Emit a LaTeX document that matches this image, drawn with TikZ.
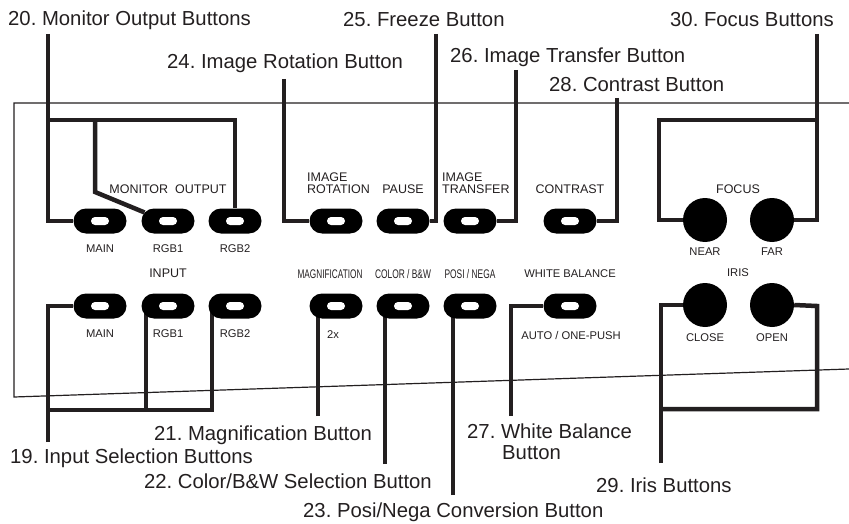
\documentclass[tikz,border=0pt]{standalone}
\usepackage{fontspec}
\setmainfont{Liberation Sans}
\usepackage{graphicx}
\usepackage{tikz}
\usetikzlibrary{shapes.misc,backgrounds}
\usepackage{xcolor}
\definecolor{ink}{HTML}{231F20}
\frenchspacing

\tikzset{
  callout/.style={font=\fontsize{20.3}{24}\selectfont, text=ink, inner sep=0pt, anchor=west},
  panellabel/.style={font=\fontsize{12.5}{12}\selectfont, text=ink, inner sep=0pt},
  keylabel/.style={font=\fontsize{11.2}{12}\selectfont, text=ink, inner sep=0pt},
  lead/.style={draw=ink, line width=4.5pt, line join=miter},
  panel/.style={draw=ink, line width=1.2pt},
  pushbtn/.style={rounded rectangle, fill=black, minimum width=53pt, minimum height=25pt, inner sep=0pt,
    path picture={\node[rounded rectangle, fill=white, minimum width=18pt, minimum height=8pt, inner sep=0pt]
      at (path picture bounding box.center) {};}},
  dial/.style={circle, fill=black, minimum size=44pt, inner sep=0pt}
}

\begin{document}
\begin{tikzpicture}[x=1pt, y=-1pt]
    \useasboundingbox (0,0) rectangle (849,524);

    % Panel outline
    \draw[panel] (849,103) -- (14,103) -- (14,397) -- (849,369);

    % Callout labels
    \node[callout] (lbl20) at (8,20) {20. Monitor Output Buttons};
    \node[callout] (lbl25) at (343,20) {25. Freeze Button};
    \node[callout] (lbl30) at (670,20) {30. Focus Buttons};
    \node[callout] (lbl24) at (167,63) {24. Image Rotation Button};
    \node[callout] (lbl26) at (450,57) {26. Image Transfer Button};
    \node[callout] (lbl28) at (549,85) {28. Contrast Button};
    \node[callout] (lbl19) at (10,458) {19. Input Selection Buttons};
    \node[callout] (lbl21) at (154,435) {21. Magnification Button};
    \node[callout, anchor=east] (lbl22) at (432,481) {22. Color/B\&W Selection Button};
    \node[callout] (lbl23) at (303,512) {23. Posi/Nega Conversion Button};
    \node[callout, align=left, font=\fontsize{20.3}{21}\selectfont] (lbl27) at (467,442)
        {27. White Balance\\\hspace*{35pt}Button};
    \node[callout] (lbl29) at (596,485) {29. Iris Buttons};

    % Free ends of the leads
    \coordinate (end20) at (48,34);
    \coordinate (bus20) at (48,120);
    \coordinate (knee20) at (95,192);
    \coordinate (end19) at (48,442);
    \coordinate (bus19) at (48,410);
    \coordinate (tap19) at (146,410);
    \coordinate (end21) at (318,416);
    \coordinate (end22) at (385,464);
    \coordinate (end23) at (453,495);
    \coordinate (end27) at (511,416);
    \coordinate (end24) at (284,79);
    \coordinate (end25) at (436,34);
    \coordinate (end26) at (516,70);
    \coordinate (end28) at (617,98);
    \coordinate (end30) at (817,34);
    \coordinate (bus30) at (659,120);
    \coordinate (end29) at (661,463);
    \coordinate (bus29) at (661,409);
    \coordinate (corner29) at (817,306);

    % Buttons
    \foreach \name/\x/\y in {mainout/100/221, rgb1out/168/221, rgb2out/235/221,
        rotbtn/336/221, pausebtn/403/221, xferbtn/470/221, contrastbtn/570/221,
        mainin/100/306, rgb1in/168/306, rgb2in/235/306,
        magbtn/336/306, colorbtn/403/306, posibtn/470/306, wbbtn/570/306} {
        \node[pushbtn] (\name) at (\x,\y) {};
    }
    \foreach \name/\x/\y in {neardial/705/220, fardial/772/220, closedial/705/305, opendial/772/305} {
        \node[dial] (\name) at (\x,\y) {};
    }

    % Leads (behind the buttons)
    \begin{scope}[on background layer]
    \draw[lead] (end20) |- (mainout.west);
    \draw[lead] (bus20) -| (rgb2out.north);
    \draw[lead] (bus20 -| knee20) -- (knee20) -- (rgb1out.160);
    \draw[lead] (end19) |- (mainin.west);
    \draw[lead] (bus19) -| ([xshift=-23pt]rgb2in.center);
    \draw[lead] (tap19) -- (tap19 |- rgb1in.center);
    \draw[lead] (end21) -- (end21 |- magbtn.center);
    \draw[lead] (end22) -- (end22 |- colorbtn.center);
    \draw[lead] (end23) -- (end23 |- posibtn.center);
    \draw[lead] (end27) |- (wbbtn.west);
    \draw[lead] (end24) |- (rotbtn.west);
    \draw[lead] (end25) |- (pausebtn.east);
    \draw[lead] (end26) |- (xferbtn.east);
    \draw[lead] (end28) |- (contrastbtn.east);
    \draw[lead] (end30) |- (fardial.east);
    \draw[lead] (neardial.west) -| (bus30) -- (bus30 -| end30);
    \draw[lead] (end29) |- (closedial.west);
    \draw[lead] (bus29) -| (corner29) -- (opendial.east);
    \end{scope}

    % Panel labels
    \node[panellabel] (monlbl) at (168,189) {MONITOR\ \ OUTPUT};
    \node[panellabel, align=left, anchor=west] (rotlbl) at (307,183) {IMAGE\\ROTATION};
    \node[panellabel] (pauselbl) at (403,189) {PAUSE};
    \node[panellabel, align=left, anchor=west] (xferlbl) at (442,183) {IMAGE\\TRANSFER};
    \node[panellabel] (contrastlbl) at (570,189) {CONTRAST};
    \node[panellabel] (focuslbl) at (738,189) {FOCUS};
    \node[panellabel] (inputlbl) at (168,273) {INPUT};
    \node[panellabel] (maglbl) at (330,274) {\scalebox{0.66}[1]{MAGNIFICATION}};
    \node[panellabel] (colorlbl) at (403,274) {\scalebox{0.67}[1]{COLOR / B\&W}};
    \node[panellabel] (posilbl) at (470,274) {\scalebox{0.67}[1]{POSI / NEGA}};
    \node[keylabel] (wblbl) at (570,274) {WHITE BALANCE};
    \node[keylabel] (irislbl) at (738,273) {IRIS};

    % Key labels
    \node[keylabel] at (100,249) {MAIN};
    \node[keylabel] at (168,249) {RGB1};
    \node[keylabel] at (235,249) {RGB2};
    \node[keylabel] at (705,252) {NEAR};
    \node[keylabel] at (772,252) {FAR};
    \node[keylabel] at (100,334) {MAIN};
    \node[keylabel] at (168,334) {RGB1};
    \node[keylabel] at (235,334) {RGB2};
    \node[keylabel] at (333,335) {2x};
    \node[keylabel] at (571,335) {AUTO / ONE-PUSH};
    \node[keylabel] at (705,338) {CLOSE};
    \node[keylabel] at (772,338) {OPEN};
\end{tikzpicture}
\end{document}
